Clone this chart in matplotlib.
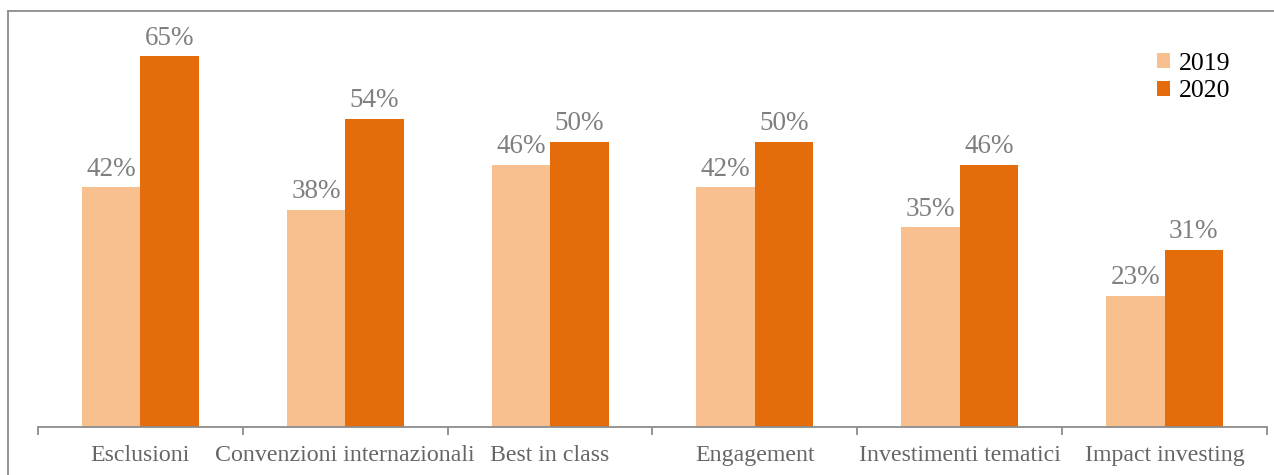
import numpy as np
import matplotlib
matplotlib.use('Agg')
from matplotlib import pyplot as plt
from matplotlib.lines import Line2D

categories = ['Esclusioni', 'Convenzioni internazionali', 'Best in class',
              'Engagement', 'Investimenti tematici', 'Impact investing']
years = ['2019', '2020']
v2019 = [42, 38, 46, 42, 35, 23]
v2020 = [65, 54, 50, 50, 46, 31]

c2019 = '#F9C08F'
c2020 = '#E46C0A'
grey = '#7F7F7F'

plt.rcParams['font.family'] = ['Liberation Serif', 'DejaVu Serif']

W, H = 1274, 475
fig = plt.figure(figsize=(W / 100, H / 100), dpi=100)
ax = fig.add_axes([38 / W, (H - 426.5) / H, (1267 - 38) / W, 410 / H])

x = np.arange(len(categories))
bw = 0.286
b1 = ax.bar(x - bw / 2, v2019, bw, color=c2019, label=years[0])
b2 = ax.bar(x + bw / 2, v2020, bw, color=c2020, label=years[1])

for bars, vals in ((b1, v2019), (b2, v2020)):
    for rect, v in zip(bars, vals):
        ax.text(rect.get_x() + rect.get_width() / 2, v + 1.0, f'{v}%',
                ha='center', va='bottom', fontsize=19.5, color=grey)

ax.set_xlim(-0.5, len(categories) - 0.5)
ax.set_ylim(0, 72)
ax.set_yticks([])
for s in ['top', 'right', 'left']:
    ax.spines[s].set_visible(False)
ax.spines['bottom'].set_color('#8C8C8C')
ax.spines['bottom'].set_linewidth(1.3)

# ticks at category boundaries, labels at centers
ax.set_xticks(np.arange(len(categories) + 1) - 0.5)
ax.set_xticklabels([])
ax.tick_params(axis='x', which='major', length=6, width=1.3, color='#8C8C8C', direction='out')
ax.set_xticks(x, minor=True)
ax.set_xticklabels(categories, minor=True)
ax.tick_params(axis='x', which='minor', length=0, pad=13, labelsize=17.2, labelcolor='#666666')

ax.legend(loc='upper right', bbox_to_anchor=(0.989, 0.968), frameon=False, fontsize=18.5,
          handlelength=0.5, handleheight=0.5, handletextpad=0.35, labelspacing=0.22)

# outer frame (left and top only visible)
fig.add_artist(Line2D([8 / W, 8 / W], [0, 1 - 11 / H], transform=fig.transFigure,
                      color='#8C8C8C', lw=1.3))
fig.add_artist(Line2D([8 / W, 1], [1 - 11 / H, 1 - 11 / H], transform=fig.transFigure,
                      color='#8C8C8C', lw=1.3))

fig.savefig('out.png', dpi=100)
